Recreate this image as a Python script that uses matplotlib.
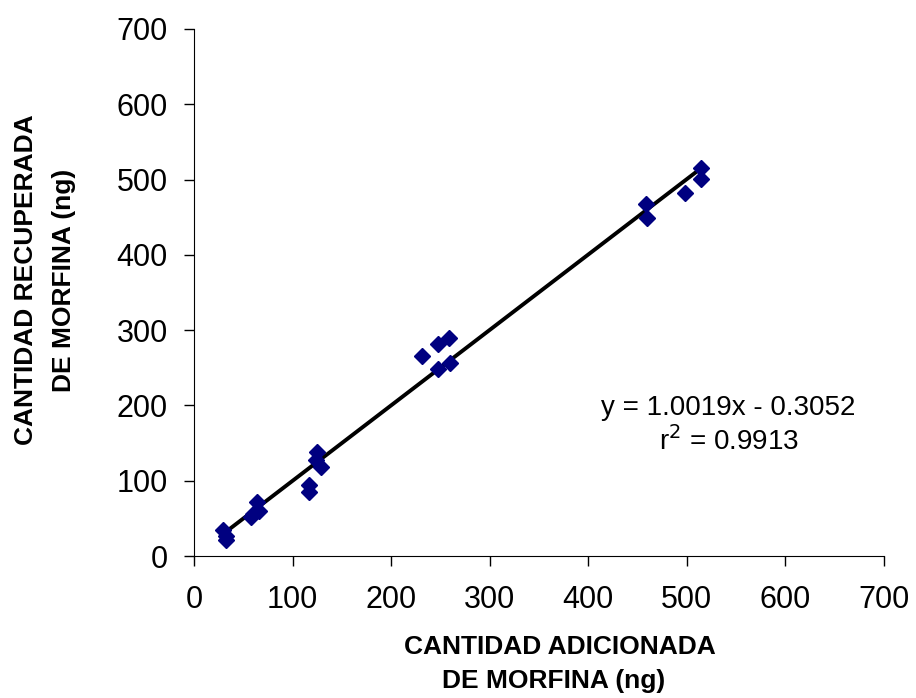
import matplotlib
matplotlib.use("Agg")
import matplotlib.pyplot as plt
import numpy as np

plt.rcParams['font.family'] = ['Liberation Sans', 'DejaVu Sans']

# cantidad adicionada (x) y recuperada (y), ng
x_add = [29, 32, 32, 58, 60, 64, 66, 117, 117, 125, 124, 129,
         231, 248, 259, 248, 260, 459, 460, 498, 514, 514]
y_rec = [34, 26, 21, 52, 56, 72, 60, 94, 85, 138, 127, 118,
         266, 281, 290, 249, 256, 467, 449, 482, 516, 501]

slope = 1.0019
intercept = -0.3052
r2 = 0.9913

fig = plt.figure(figsize=(9.16, 6.98), dpi=100)
ax = fig.add_axes([194 / 916, 1 - 556 / 698, 690 / 916, 527 / 698])

ax.plot(x_add, y_rec, linestyle='none', marker='D', markersize=8.5,
        color='#000080', zorder=3)

xl = np.array([min(x_add), max(x_add)])
ax.plot(xl, slope * xl + intercept, color='black', linewidth=2.8, zorder=2)

ax.set_xlim(0, 700)
ax.set_ylim(0, 700)
ax.set_xticks(range(0, 701, 100))
ax.set_yticks(range(0, 701, 100))
ax.tick_params(direction='out', length=7, width=1, labelsize=22)
ax.tick_params(axis='x', pad=14)
ax.tick_params(axis='y', pad=12)
ax.spines['top'].set_visible(False)
ax.spines['right'].set_visible(False)

ax.text(542, 187, 'y = 1.0019x - 0.3052', fontsize=20, ha='center', va='baseline')
ax.text(543, 141, 'r$^2$ = 0.9913', fontsize=20, ha='center', va='baseline')

fig.text(560 / 916, 1 - 647 / 698, 'CANTIDAD ADICIONADA', fontsize=19,
         fontweight='bold', ha='center', va='center')
fig.text(554 / 916, 1 - 681 / 698, 'DE MORFINA (ng)', fontsize=19,
         fontweight='bold', ha='center', va='center')
fig.text(26 / 916, 1 - 280 / 698, 'CANTIDAD RECUPERADA', fontsize=19,
         fontweight='bold', ha='center', va='center', rotation=90)
fig.text(64 / 916, 1 - 280 / 698, 'DE MORFINA (ng)', fontsize=19,
         fontweight='bold', ha='center', va='center', rotation=90)

fig.savefig('out.png', dpi=100)
